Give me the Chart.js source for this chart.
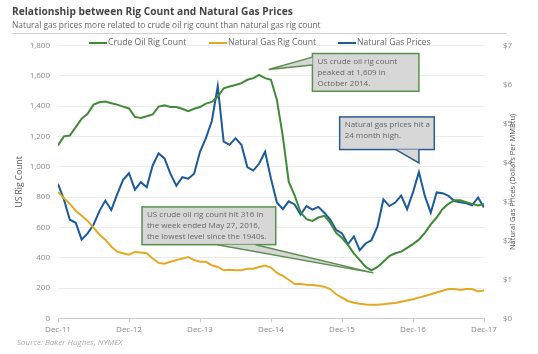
<!DOCTYPE html>
<html>
<head>
<meta charset="UTF-8" />
<title>Relationship between Rig Count and Natural Gas Prices</title>
<script src="https://cdn.jsdelivr.net/npm/chart.js"></script>
<style>
  html, body { margin: 0; padding: 0; background: #fff; }
</style>
</head>
<body>
<canvas id="rigChart" width="538" height="354"></canvas>
<script>
// monthly readings, Dec-11 (index 0) to Dec-17 (index 72)
const tickLabels = ['Dec-11', 'Dec-12', 'Dec-13', 'Dec-14', 'Dec-15', 'Dec-16', 'Dec-17'];

const crudeOilRigs = [
  1140, 1200, 1205, 1261, 1317, 1349, 1409, 1425, 1430, 1418, 1409, 1396,
  1384, 1328, 1321, 1332, 1344, 1396, 1404, 1393, 1393, 1382, 1366, 1382,
  1393, 1416, 1427, 1461, 1517, 1528, 1539, 1551, 1573, 1584, 1605, 1584,
  1573, 1440, 1200, 900, 811, 699, 654, 643, 665, 676, 631, 564,
  530, 485, 429, 384, 339, 316, 339, 373, 411, 429, 440, 465,
  490, 519, 564, 620, 665, 721, 755, 778, 778, 766, 755, 744,
  755
];

const natGasRigs = [
  834, 793, 755, 710, 676, 643, 598, 553, 519, 474, 440, 429,
  420, 438, 434, 429, 395, 366, 360, 373, 384, 395, 405, 384,
  373, 373, 350, 339, 317, 321, 317, 317, 328, 328, 339, 348,
  335, 300, 280, 255, 227, 227, 222, 220, 216, 209, 193, 159,
  137, 115, 103, 96, 92, 90, 90, 94, 98, 101, 110, 118,
  126, 137, 148, 159, 171, 182, 193, 193, 187, 193, 193, 178,
  184
];

const natGasPrices = [
  3.45, 3.05, 2.53, 2.45, 2.02, 2.18, 2.40, 2.75, 3.02, 2.78, 3.18, 3.55,
  3.72, 3.30, 3.49, 3.36, 3.92, 4.23, 4.10, 3.71, 3.40, 3.62, 3.58, 3.71,
  4.27, 4.62, 5.06, 5.95, 4.53, 4.45, 4.62, 4.45, 3.88, 3.79, 3.97, 4.27,
  3.58, 2.97, 2.80, 3.00, 2.92, 2.66, 2.88, 2.79, 2.86, 2.71, 2.53, 2.27,
  2.18, 1.90, 2.10, 1.75, 1.92, 2.01, 2.36, 3.05, 2.88, 2.97, 3.15, 2.80,
  3.23, 3.75, 3.14, 2.71, 3.23, 3.21, 3.14, 3.01, 2.98, 2.95, 2.90, 3.10,
  2.84
];

// callout boxes, placed in chart units (month index, rig count)
const notes = [
  {
    lines: ['US crude oil rig count', 'peaked at 1,609 in', 'October 2014.'],
    border: '#5b8f4e',
    box: [43, 1746, 61, 1497],
    pointer: [[43, 1722], [35.6, 1640], [43, 1670]]
  },
  {
    lines: ['Natural gas prices hit a', '24 month high.'],
    border: '#2d5d8c',
    box: [47.6, 1328, 63.6, 1113],
    pointer: [[57.1, 1113], [61, 1025], [61, 1113]]
  },
  {
    lines: ['US crude oil rig count hit 316 in', 'the week ended May 27, 2016,', 'the lowest level since the 1940s.'],
    border: '#5b8f4e',
    box: [14.2, 735, 36.8, 486],
    pointer: [[26.9, 486], [53.3, 300], [33.4, 486]]
  }
];

// legend sample start x for each series
const legendX = [89, 209, 338];

const toPoints = arr => arr.map((v, i) => ({ x: i, y: v }));

Chart.defaults.font.family = "'Open Sans', sans-serif";
Chart.defaults.color = '#777';

const calloutPlugin = {
  id: 'callouts',
  afterDatasetsDraw(chart) {
    const ctx = chart.ctx;
    const xs = chart.scales.x, ys = chart.scales.y;
    notes.forEach(n => {
      const x0 = xs.getPixelForValue(n.box[0]), y0 = ys.getPixelForValue(n.box[1]);
      const x1 = xs.getPixelForValue(n.box[2]), y1 = ys.getPixelForValue(n.box[3]);
      const p = n.pointer.map(q => [xs.getPixelForValue(q[0]), ys.getPixelForValue(q[1])]);
      ctx.save();
      ctx.fillStyle = '#d7d7d7';
      ctx.strokeStyle = n.border;
      ctx.lineWidth = 1.5;
      ctx.fillRect(x0, y0, x1 - x0, y1 - y0);
      ctx.strokeRect(x0, y0, x1 - x0, y1 - y0);
      ctx.beginPath();
      ctx.moveTo(p[0][0], p[0][1]);
      ctx.lineTo(p[1][0], p[1][1]);
      ctx.lineTo(p[2][0], p[2][1]);
      ctx.closePath();
      ctx.fill();
      ctx.beginPath();
      ctx.moveTo(p[0][0], p[0][1]);
      ctx.lineTo(p[1][0], p[1][1]);
      ctx.lineTo(p[2][0], p[2][1]);
      ctx.stroke();
      ctx.fillStyle = '#666';
      ctx.font = "8px 'Open Sans', sans-serif";
      ctx.textBaseline = 'middle';
      n.lines.forEach((t, i) => ctx.fillText(t, x0 + 5, y0 + 8 + i * 11));
      ctx.restore();
    });
  }
};

const framePlugin = {
  id: 'frame',
  afterDraw(chart) {
    const ctx = chart.ctx;
    const area = chart.chartArea;
    ctx.save();
    // rule under the subtitle
    ctx.strokeStyle = '#cfcfcf';
    ctx.lineWidth = 1;
    ctx.beginPath();
    ctx.moveTo(12, 33.5);
    ctx.lineTo(507, 33.5);
    ctx.stroke();
    // legend
    ctx.font = "8.6px 'Open Sans', sans-serif";
    ctx.textBaseline = 'middle';
    chart.data.datasets.forEach((ds, i) => {
      ctx.strokeStyle = ds.borderColor;
      ctx.lineWidth = 2;
      ctx.beginPath();
      ctx.moveTo(legendX[i], 43);
      ctx.lineTo(legendX[i] + 18, 43);
      ctx.stroke();
      ctx.fillStyle = '#666';
      ctx.fillText(ds.label, legendX[i] + 19, 43);
    });
    // right axis title, reading bottom to top
    ctx.translate(513, (area.top + area.bottom) / 2);
    ctx.rotate(-Math.PI / 2);
    ctx.textAlign = 'center';
    ctx.fillStyle = '#555';
    ctx.font = "7.5px 'Open Sans', sans-serif";
    ctx.fillText('Natural Gas Prices (Dollars Per MMBtu)', 0, 0);
    ctx.setTransform(1, 0, 0, 1, 0, 0);
    // source
    ctx.textAlign = 'left';
    ctx.fillStyle = '#aaa';
    ctx.font = "italic 8px 'Open Sans', sans-serif";
    ctx.fillText('Source: Baker Hughes, NYMEX', 17, 343);
    ctx.restore();
  }
};

new Chart(document.getElementById('rigChart'), {
  type: 'line',
  data: {
    datasets: [
      {
        label: 'Crude Oil Rig Count',
        data: toPoints(crudeOilRigs),
        borderColor: '#3f8a37',
        borderWidth: 2,
        pointRadius: 0,
        tension: 0,
        yAxisID: 'y'
      },
      {
        label: 'Natural Gas Rig Count',
        data: toPoints(natGasRigs),
        borderColor: '#e5a823',
        borderWidth: 2,
        pointRadius: 0,
        tension: 0,
        yAxisID: 'y'
      },
      {
        label: 'Natural Gas Prices',
        data: toPoints(natGasPrices),
        borderColor: '#1c5a9a',
        borderWidth: 2,
        pointRadius: 0,
        tension: 0,
        yAxisID: 'y1'
      }
    ]
  },
  options: {
    responsive: false,
    animation: false,
    devicePixelRatio: 1,
    layout: { padding: { left: 12, right: 20, top: 0, bottom: 16 } },
    plugins: {
      title: {
        display: true,
        text: 'Relationship between Rig Count and Natural Gas Prices',
        align: 'start',
        color: '#444',
        font: { size: 10.2, weight: 'bold' },
        padding: { top: 6, bottom: 2 }
      },
      subtitle: {
        display: true,
        text: 'Natural gas prices more related to crude oil rig count than natural gas rig count',
        align: 'start',
        color: '#666',
        font: { size: 8.4 },
        padding: { bottom: 15 }
      },
      legend: { display: false },
      tooltip: { enabled: false }
    },
    scales: {
      x: {
        type: 'linear',
        min: 0,
        max: 72,
        ticks: {
          stepSize: 12,
          autoSkip: false,
          maxRotation: 0,
          color: '#888',
          font: { size: 8 },
          callback: v => tickLabels[v / 12]
        },
        grid: { drawOnChartArea: false, tickLength: 4, color: '#ccc' },
        border: { color: '#ccc' }
      },
      y: {
        position: 'left',
        min: 0,
        max: 1800,
        afterFit: s => { s.width = 46; },
        ticks: {
          stepSize: 200,
          padding: 8,
          color: '#888',
          font: { size: 8 },
          callback: v => v.toLocaleString('en-US')
        },
        grid: { color: '#ececec', drawTicks: false },
        border: { display: false },
        title: { display: true, text: 'US Rig Count', color: '#555', font: { size: 8.5 }, padding: 2 }
      },
      y1: {
        position: 'right',
        min: 0,
        max: 7,
        afterFit: s => { s.width = 34; },
        ticks: {
          stepSize: 1,
          padding: 11,
          color: '#888',
          font: { size: 8 },
          callback: v => '$' + v
        },
        grid: { display: false },
        border: { display: false }
      }
    }
  },
  plugins: [calloutPlugin, framePlugin]
});
</script>
</body>
</html>
